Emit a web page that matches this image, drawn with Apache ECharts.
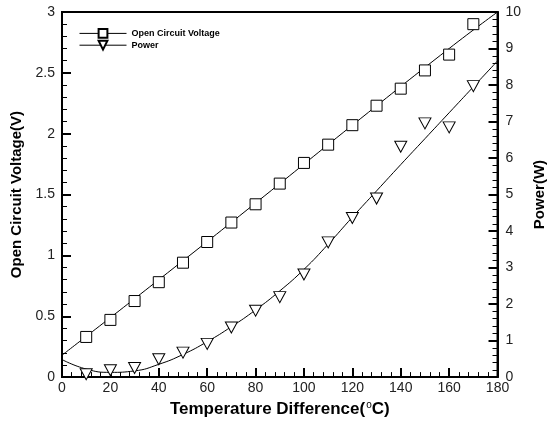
<!DOCTYPE html>
<html><head><meta charset="utf-8">
<script src="https://cdn.jsdelivr.net/npm/echarts@6/dist/echarts.min.js"></script>
<style>html,body{margin:0;padding:0;background:#fff}#c{width:555px;height:423px}</style>
</head><body><div id="c"></div>
<script>
var temps = [10,20,30,40,50,60,70,80,90,100,110,120,130,140,150,160,170];
var voltage = [0.33,0.47,0.625,0.78,0.94,1.11,1.27,1.42,1.59,1.76,1.91,2.07,2.23,2.37,2.52,2.65,2.90];
var power = [0.08,0.19,0.25,0.49,0.67,0.91,1.36,1.82,2.19,2.81,3.69,4.36,4.89,6.31,6.95,6.84,7.97];
var fitVT = [0,40,80,120,160,180];
var fitV = [0.18,0.80,1.43,2.07,2.70,3.0];
var fitPT = [0,10,20,30,40,50,60,70,80,90,100,110,120,130,140,150,160,170,180];
var fitP = [0.48,0.22,0.13,0.17,0.35,0.62,0.97,1.38,1.84,2.36,2.95,3.64,4.38,5.1,5.82,6.53,7.24,7.95,8.66];

function pairs(a,b){return a.map(function(v,i){return [v,b[i]];});}
var font = '"Liberation Sans", Arial, sans-serif';
var chart = echarts.init(document.getElementById('c'), null, {renderer:'canvas'});
var axisCommon = {
  axisLine:{show:true,onZero:false,lineStyle:{color:'#000',width:2}},
  axisTick:{show:true,inside:true,length:9,lineStyle:{color:'#000',width:2}},
  minorTick:{show:true,splitNumber:5,length:5,lineStyle:{color:'#000',width:1}},
  splitLine:{show:false},
  axisLabel:{color:'#222',fontSize:14,fontFamily:font},
  nameTextStyle:{color:'#000',fontWeight:'bold',fontFamily:font}
};
chart.setOption({
  animation:false,
  backgroundColor:'#fff',
  grid:{left:62,right:56,top:12,bottom:37,show:true,borderColor:'#000',borderWidth:2,backgroundColor:'transparent'},
  legend:{
    orient:'vertical',left:74,top:23,itemWidth:47,itemHeight:11,itemGap:1,
    textStyle:{fontSize:9,fontWeight:'bold',color:'#000',fontFamily:font},
    data:[
      {name:'Open Circuit Voltage',lineStyle:{opacity:1,width:1,color:'#000'}},
      {name:'Power',lineStyle:{opacity:1,width:1,color:'#000'}}
    ]
  },
  xAxis:Object.assign({},axisCommon,{
    type:'value',min:0,max:180,interval:20,
    name:'{a|Temperature Difference(}{s|o}{a|C)}',nameLocation:'middle',nameGap:17,
    nameTextStyle:{color:'#000',fontWeight:'bold',fontSize:17,fontFamily:font,
      rich:{
        a:{fontSize:17,fontWeight:'bold',color:'#000',fontFamily:font,verticalAlign:'bottom'},
        s:{fontSize:10,fontWeight:'normal',color:'#000',fontFamily:font,verticalAlign:'top',padding:[0,0,8,1]}
      }},
    axisLabel:{color:'#222',fontSize:14,fontFamily:font,margin:4}
  }),
  yAxis:[
    Object.assign({},axisCommon,{
      type:'value',min:0,max:3,interval:0.5,position:'left',
      name:'Open Circuit Voltage(V)',nameLocation:'middle',nameGap:29,
      nameTextStyle:{color:'#000',fontWeight:'bold',fontSize:15,fontFamily:font},
      axisLabel:{color:'#222',fontSize:14,fontFamily:font,margin:7}
    }),
    Object.assign({},axisCommon,{
      type:'value',min:0,max:10,interval:1,position:'right',
      name:'Power(W)',nameLocation:'middle',nameGap:34,
      nameTextStyle:{color:'#000',fontWeight:'bold',fontSize:15,fontFamily:font},
      axisLabel:{color:'#222',fontSize:14,fontFamily:font,margin:8}
    })
  ],
  series:[
    {name:'Voltage fit',type:'line',yAxisIndex:0,data:pairs(fitVT,fitV),smooth:true,showSymbol:false,
     lineStyle:{color:'#000',width:1},silent:true,z:2},
    {name:'Power fit',type:'line',yAxisIndex:1,data:pairs(fitPT,fitP),smooth:true,showSymbol:false,
     lineStyle:{color:'#000',width:1},silent:true,z:2},
    {name:'Open Circuit Voltage',type:'line',yAxisIndex:0,data:pairs(temps,voltage),
     symbol:'rect',symbolSize:11,showAllSymbol:true,
     lineStyle:{opacity:0,color:'#000'},itemStyle:{color:'#fff',borderColor:'#000',borderWidth:1},z:3},
    {name:'Power',type:'line',yAxisIndex:1,data:pairs(temps,power),
     symbol:'triangle',symbolRotate:180,symbolSize:[12,11],showAllSymbol:true,
     lineStyle:{opacity:0,color:'#000'},itemStyle:{color:'#fff',borderColor:'#000',borderWidth:1},z:3}
  ]
});
</script></body></html>
